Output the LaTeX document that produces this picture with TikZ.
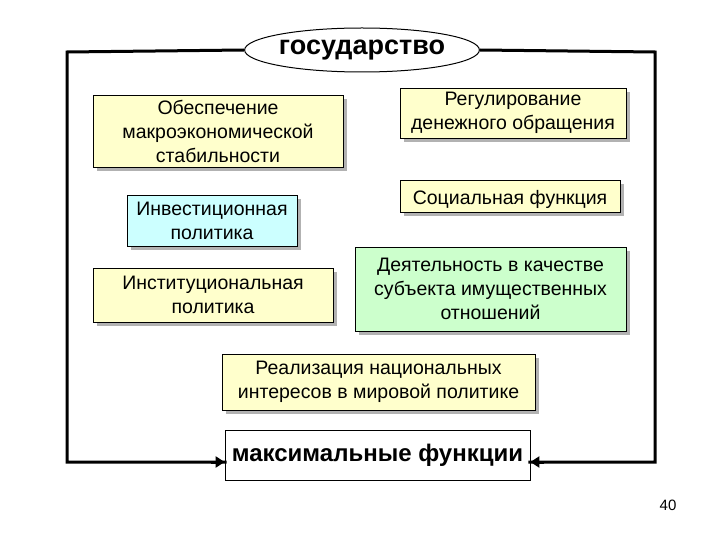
\documentclass[tikz,border=0pt]{standalone}
\usepackage{fontspec}
\setmainfont{Liberation Sans}
\usetikzlibrary{shapes.geometric,arrows.meta}
\begin{document}
\begin{tikzpicture}[x=1pt,y=-1pt,
 box/.style={draw=black,line width=0.8pt,align=center,inner sep=0pt},
 txt/.style={font=\fontsize{19.5}{24}\selectfont,align=center},
 frame/.style={line width=3pt}]
\useasboundingbox (0,0) rectangle (720,540);
\definecolor{ly}{HTML}{FFFFCC}
\definecolor{lb}{HTML}{CCFFFF}
\definecolor{lg}{HTML}{CCFFCC}
\newcommand{\bx}[6]{%
 \fill[gray!60] (#1+4,#2+4) rectangle (#3+4,#4+4);
 \node[box,fill=#5,minimum width=#3-#1,minimum height=#4-#2] (#6) at ({(#1+#3)/2},{(#2+#4)/2}) {};}
\bx{93}{95}{343}{167}{ly}{b1}
\node[txt] at (b1) {Обеспечение\\макроэкономической\\стабильности};
\bx{400}{88}{626}{138}{ly}{b2}
\node[txt] at (b2) {Регулирование\\денежного обращения};
\bx{127}{195}{297}{246}{lb}{b3}
\node[txt] at (b3) {Инвестиционная\\политика};
\bx{400}{180}{620}{212}{ly}{b4}
\node[txt] at ([yshift=-3pt]b4) {Социальная функция};
\bx{93}{268}{333}{322}{ly}{b5}
\node[txt] at (b5) {Институциональная\\политика};
\bx{355}{247}{626}{331}{lg}{b6}
\node[txt] at (b6) {Деятельность в качестве\\субъекта имущественных\\отношений};
\bx{222}{354}{535}{410}{ly}{b7}
\node[txt] at (b7) {Реализация национальных\\интересов в мировой политике};
\node[draw,line width=0.8pt,fill=white,minimum width=305,minimum height=50,inner sep=0pt,font=\bfseries\fontsize{24}{28}\selectfont] (b8) at (377.5,455) {максимальные функции};
\node[draw,line width=1pt,fill=white,ellipse,minimum width=218,minimum height=44,inner sep=0pt,font=\bfseries\fontsize{27}{30}\selectfont] (st) at (362,50) {государство};
\coordinate (tl) at (67,52); \coordinate (tr) at (655,52);
\coordinate (bl) at (67,462); \coordinate (br) at (655,462);
\draw[frame] (st.west) -- (tl) -- (bl) -- ([xshift=2pt]b8.west |- bl);
\draw[frame] (st.east) -- (tr) -- (br) -- ([xshift=-2pt]b8.east |- br);
\draw[frame,-{Triangle[length=9pt,width=11pt]}] ([xshift=-14pt]b8.west |- bl) -- (b8.west |- bl);
\draw[frame,-{Triangle[length=9pt,width=11pt]}] ([xshift=14pt]b8.east |- br) -- (b8.east |- br);
\node[font=\fontsize{15}{17}\selectfont] (pg) at (668,505) {40};
\end{tikzpicture}
\end{document}
